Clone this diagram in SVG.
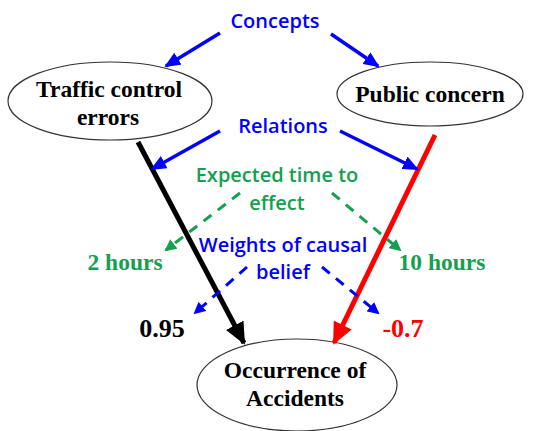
<svg xmlns="http://www.w3.org/2000/svg" width="536" height="431" viewBox="0 0 536 431">
<style>
.node{fill:#fff;stroke:#333;stroke-width:1.2}
.nt{font-family:"Liberation Serif",serif;font-weight:bold;font-size:23.5px;fill:#000;text-anchor:middle}
.lab{font-family:"Open Sans","Liberation Sans",sans-serif;font-weight:600;font-size:20px;text-anchor:middle}
.blue{fill:#0000ff}
.green{fill:#14a050}
.sv{font-family:"Liberation Serif",serif;font-weight:bold;font-size:23.5px;text-anchor:middle}
.num{font-size:26px}
</style>
<defs>
<marker id="mb" markerUnits="userSpaceOnUse" markerWidth="16" markerHeight="14" refX="14" refY="7" orient="auto"><path d="M0,0 L16,7 L0,14 Z" fill="#0000ff"/></marker>
<marker id="mk" markerUnits="userSpaceOnUse" markerWidth="22" markerHeight="20" refX="20" refY="10" orient="auto"><path d="M0,0 L22,10 L0,20 Z" fill="#000"/></marker>
<marker id="mr" markerUnits="userSpaceOnUse" markerWidth="22" markerHeight="20" refX="20" refY="10" orient="auto"><path d="M0,0 L22,10 L0,20 Z" fill="#ff0000"/></marker>
<marker id="mg" markerUnits="userSpaceOnUse" markerWidth="12" markerHeight="12" refX="10" refY="6" orient="auto"><path d="M0,0 L12,6 L0,12 Z" fill="#14a050"/></marker>
<marker id="mbs" markerUnits="userSpaceOnUse" markerWidth="12" markerHeight="12" refX="10" refY="6" orient="auto"><path d="M0,0 L12,6 L0,12 Z" fill="#0000ff"/></marker>
</defs>
<g id="n-traffic"><ellipse class="node" cx="110" cy="101" rx="102" ry="39"/><text class="nt" x="109" y="97">Traffic control</text><text class="nt" x="108" y="125">errors</text></g>
<g id="n-public"><ellipse class="node" cx="430" cy="94" rx="93" ry="32"/><text class="nt" x="430" y="102">Public concern</text></g>
<g id="n-occ"><ellipse class="node" cx="297" cy="385" rx="100" ry="46"/><text class="nt" x="295" y="378">Occurrence of</text><text class="nt" x="295" y="406">Accidents</text></g>
<g id="connectors">
<line x1="138" y1="142" x2="244" y2="343" stroke="#000" stroke-width="5" marker-end="url(#mk)"/>
<line x1="435" y1="135" x2="334" y2="343" stroke="#ff0000" stroke-width="5" marker-end="url(#mr)"/>
<line x1="220" y1="33" x2="166" y2="66" stroke="#0000ff" stroke-width="3.5" marker-end="url(#mb)"/>
<line x1="331" y1="34" x2="378" y2="66" stroke="#0000ff" stroke-width="3.5" marker-end="url(#mb)"/>
<line x1="220" y1="131" x2="152" y2="169" stroke="#0000ff" stroke-width="3.5" marker-end="url(#mb)"/>
<line x1="340" y1="131" x2="417" y2="169" stroke="#0000ff" stroke-width="3.5" marker-end="url(#mb)"/>
<line x1="240" y1="193" x2="166" y2="250" stroke="#14a050" stroke-width="3" stroke-dasharray="10,8" marker-end="url(#mg)"/>
<line x1="332" y1="193" x2="400" y2="250" stroke="#14a050" stroke-width="3" stroke-dasharray="10,8" marker-end="url(#mg)"/>
<line x1="247" y1="267" x2="195" y2="313" stroke="#0000ff" stroke-width="3" stroke-dasharray="10,8" marker-end="url(#mbs)"/>
<line x1="322" y1="267" x2="378" y2="313" stroke="#0000ff" stroke-width="3" stroke-dasharray="10,8" marker-end="url(#mbs)"/>
</g>
<text class="lab blue" x="275" y="28">Concepts</text>
<text class="lab blue" x="283" y="133">Relations</text>
<text class="lab green" x="277" y="182">Expected time to</text>
<text class="lab green" x="277" y="210">effect</text>
<text class="lab blue" x="283" y="252">Weights of causal</text>
<text class="lab blue" x="283" y="279">belief</text>
<text class="sv" x="125" y="270" fill="#14a050">2 hours</text>
<text class="sv" x="442" y="270" fill="#14a050">10 hours</text>
<text class="sv num" x="162" y="337" fill="#000">0.95</text>
<text class="sv num" x="403" y="337" fill="#ff0000">-0.7</text>
</svg>
